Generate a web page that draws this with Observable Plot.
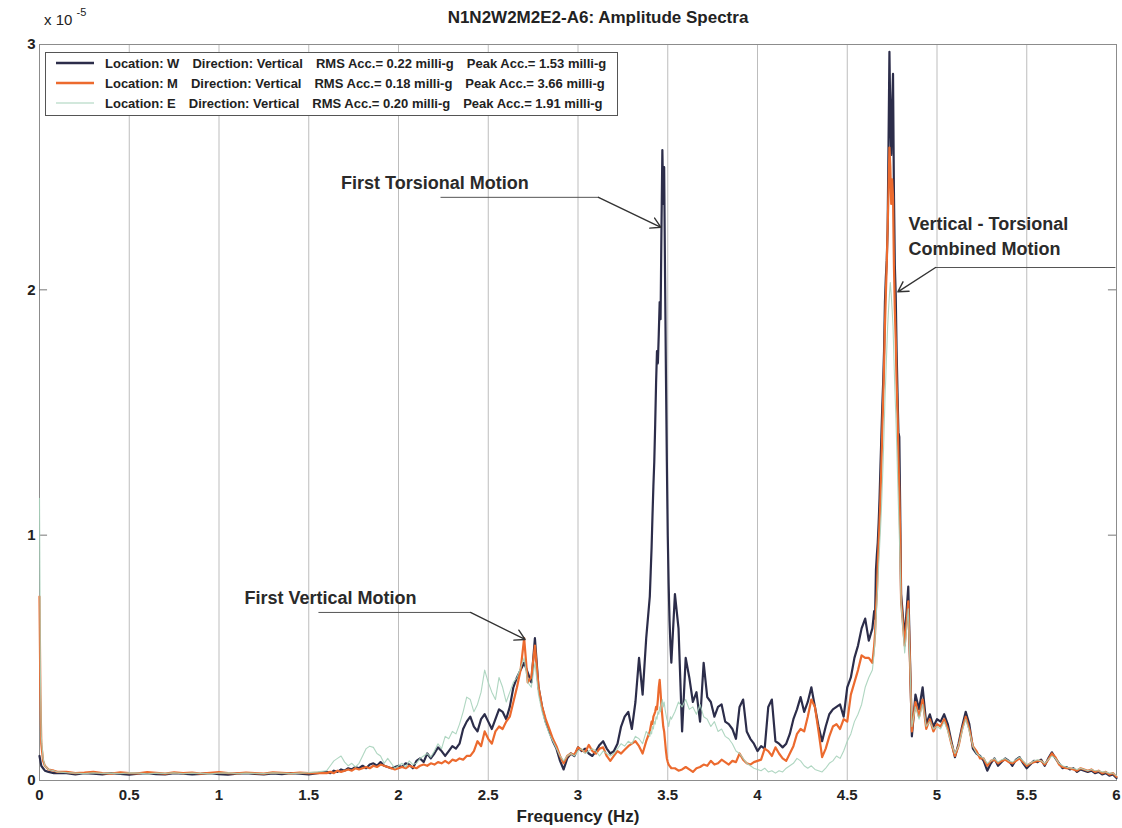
<!DOCTYPE html>
<html><head><meta charset="utf-8">
<script src="https://cdn.jsdelivr.net/npm/d3@7"></script>
<script src="https://cdn.jsdelivr.net/npm/@observablehq/plot@0.6"></script>
<style>
body{margin:0;background:#fff;}
#wrap{position:relative;width:1122px;height:828px;font-family:"Liberation Sans",Arial,Helvetica,sans-serif;color:#222;}
#wrap svg{position:absolute;left:0;top:0;}
.ov{position:absolute;white-space:nowrap;font-weight:bold;}
#legend{position:absolute;left:45px;top:52px;width:571px;height:62px;border:1px solid #555;background:#fff;font-weight:bold;font-size:13px;}
#legend .row{height:20px;display:flex;align-items:center;white-space:nowrap;}
#legend .row span{margin-left:13px;}
#legend .row span.first{margin-left:11px;}
</style></head><body><div id="wrap"></div>
<script>
// ---- data (amplitudes in units of 1e-5) ----
const freq = [
0,0.005,0.01,0.02,0.03,0.05,0.08,0.1,
0.15,0.2,0.25,0.3,0.35,0.4,0.45,0.5,0.55,0.6,0.65,0.7,0.75,0.8,0.85,0.9,0.95,1,1.05,1.1,1.15,1.2,1.25,1.3,1.35,1.4,1.45,1.5,1.55,
1.6,1.62,1.64,1.66,1.68,1.7,1.72,1.74,1.76,1.78,
1.8,1.82,1.84,1.86,1.88,1.9,1.92,1.94,1.96,1.98,
2,2.02,2.04,2.06,2.08,2.1,2.12,2.14,2.16,2.18,
2.2,2.22,2.24,2.26,2.28,2.3,2.32,2.34,2.36,2.38,
2.4,2.42,2.44,2.46,2.48,2.5,2.52,2.54,2.56,2.58,
2.6,2.62,2.64,2.66,2.68,2.7,2.72,2.74,2.76,2.78,
2.8,2.82,2.84,2.86,2.88,2.9,2.92,2.94,2.96,2.98,
3,3.02,3.04,3.06,3.08,3.1,3.12,3.14,3.16,3.18,
3.2,3.22,3.24,3.26,3.28,3.3,3.32,3.34,3.36,3.38,
3.4,3.405,3.41,3.415,3.42,3.425,3.43,3.435,3.44,3.445,
3.45,3.455,3.46,3.465,3.47,3.475,3.48,3.485,3.49,3.495,
3.5,3.505,3.51,3.515,3.52,
3.54,3.56,3.58,3.6,3.62,3.64,3.66,3.68,3.7,3.72,
3.74,3.76,3.78,3.8,3.82,3.84,3.86,3.88,3.9,3.92,
3.94,3.96,3.98,4,4.02,4.04,4.06,4.08,4.1,4.12,
4.14,4.16,4.18,4.2,4.22,4.24,4.26,4.28,4.3,4.32,
4.34,4.36,4.38,4.4,4.42,4.44,4.46,4.48,4.5,4.52,
4.54,4.56,4.58,4.6,
4.62,4.64,4.65,4.655,4.66,4.665,4.67,4.675,4.68,4.685,
4.69,4.695,4.7,4.705,4.71,4.715,4.72,4.725,4.73,4.735,
4.74,4.745,4.75,4.755,4.76,4.765,4.77,4.775,4.78,4.785,
4.79,4.795,4.8,
4.82,4.84,4.86,4.88,4.9,4.92,4.94,4.96,4.98,5,
5.02,5.04,5.06,5.08,5.1,5.12,5.14,5.16,5.18,5.2,
5.22,5.24,5.26,5.28,5.3,5.32,5.34,5.36,5.38,5.4,
5.42,5.44,5.46,5.48,5.5,5.52,5.54,5.56,5.58,5.6,
5.62,5.64,5.66,5.68,5.7,5.72,5.74,5.76,5.78,5.8,
5.82,5.84,5.86,5.88,5.9,5.92,5.94,5.96,5.98,6
];
const ampW = [
0.10,0.08,0.06,0.05,0.04,0.035,0.03,0.03,
0.03,0.025,0.03,0.028,0.025,0.03,0.027,0.024,0.028,0.03,
0.026,0.025,0.03,0.028,0.025,0.027,0.03,0.026,0.024,0.028,
0.03,0.027,0.025,0.029,0.026,0.03,0.028,0.025,0.03,
0.035,0.03,0.04,0.035,0.045,0.04,0.05,0.045,0.055,0.05,
0.06,0.05,0.065,0.07,0.06,0.075,0.06,0.055,0.05,0.055,
0.06,0.055,0.07,0.065,0.05,0.08,0.09,0.075,0.11,0.09,
0.11,0.135,0.12,0.10,0.12,0.14,0.13,0.15,0.21,0.24,
0.26,0.22,0.20,0.25,0.27,0.24,0.21,0.25,0.29,0.28,
0.25,0.30,0.38,0.42,0.45,0.48,0.44,0.40,0.58,0.38,
0.30,0.24,0.20,0.16,0.13,0.08,0.045,0.09,0.11,0.10,
0.135,0.12,0.13,0.11,0.10,0.12,0.145,0.16,0.13,0.11,
0.12,0.15,0.22,0.26,0.28,0.21,0.32,0.50,0.35,0.58,
0.75,0.85,0.95,1.08,1.20,1.30,1.45,1.62,1.75,1.70,
1.82,1.95,1.88,2.25,2.57,2.35,2.50,2.05,1.65,1.30,
1.00,0.80,0.65,0.55,0.48,
0.76,0.62,0.20,0.50,0.42,0.32,0.36,0.24,0.48,0.34,
0.32,0.26,0.30,0.31,0.24,0.23,0.21,0.17,0.30,0.33,
0.20,0.17,0.15,0.12,0.14,0.13,0.30,0.33,0.16,0.15,
0.135,0.15,0.19,0.25,0.29,0.34,0.28,0.32,0.38,0.30,
0.22,0.16,0.22,0.27,0.29,0.30,0.31,0.26,0.38,0.42,
0.50,0.55,0.62,0.66,
0.57,0.62,0.69,0.66,0.86,0.92,0.97,1.05,1.15,1.28,
1.40,1.52,1.62,1.75,1.95,2.05,2.12,2.25,2.60,2.97,
2.70,2.55,2.75,2.88,2.40,2.10,1.98,1.75,1.58,1.42,
1.40,1.10,0.76,
0.58,0.79,0.18,0.35,0.29,0.38,0.23,0.27,0.22,0.25,
0.24,0.27,0.23,0.16,0.095,0.15,0.22,0.28,0.23,0.13,
0.11,0.10,0.08,0.04,0.07,0.09,0.06,0.075,0.09,0.08,
0.06,0.085,0.095,0.07,0.05,0.065,0.08,0.075,0.085,0.06,
0.09,0.115,0.09,0.07,0.05,0.055,0.045,0.05,0.035,0.045,
0.04,0.035,0.04,0.03,0.035,0.025,0.03,0.02,0.025,0.01
];
const ampM = [
0.75,0.35,0.15,0.08,0.06,0.045,0.04,0.035,
0.035,0.03,0.032,0.035,0.03,0.028,0.033,0.03,0.029,0.034,
0.031,0.028,0.033,0.03,0.032,0.028,0.031,0.034,0.03,0.029,
0.032,0.03,0.028,0.033,0.031,0.029,0.032,0.03,0.031,
0.03,0.035,0.03,0.04,0.035,0.04,0.045,0.04,0.05,0.045,
0.05,0.055,0.05,0.06,0.055,0.065,0.06,0.055,0.05,0.045,
0.05,0.055,0.05,0.06,0.055,0.05,0.06,0.065,0.06,0.07,
0.065,0.075,0.07,0.08,0.07,0.085,0.08,0.09,0.085,0.10,
0.10,0.12,0.16,0.14,0.20,0.17,0.15,0.20,0.22,0.21,
0.24,0.26,0.32,0.38,0.45,0.58,0.40,0.42,0.55,0.38,
0.30,0.25,0.21,0.17,0.14,0.10,0.07,0.10,0.11,0.105,
0.135,0.125,0.115,0.145,0.12,0.11,0.13,0.135,0.10,0.08,
0.10,0.12,0.11,0.125,0.14,0.15,0.16,0.14,0.11,0.16,
0.20,0.22,0.24,0.23,0.26,0.27,0.28,0.30,0.29,0.33,
0.38,0.41,0.36,0.30,0.26,0.22,0.20,0.16,0.12,0.09,
0.075,0.065,0.06,0.055,0.05,
0.05,0.04,0.045,0.055,0.045,0.035,0.05,0.055,0.065,0.06,
0.08,0.065,0.07,0.085,0.075,0.065,0.08,0.075,0.11,0.085,
0.07,0.065,0.075,0.08,0.085,0.13,0.12,0.10,0.135,0.11,
0.09,0.08,0.11,0.14,0.19,0.21,0.20,0.26,0.33,0.30,
0.20,0.095,0.13,0.18,0.22,0.23,0.21,0.25,0.24,0.35,
0.40,0.45,0.51,0.50,
0.50,0.48,0.55,0.60,0.70,0.76,0.88,0.97,1.05,1.15,
1.28,1.42,1.55,1.68,1.85,1.98,2.10,2.25,2.40,2.58,
2.50,2.35,2.45,2.38,2.10,1.92,1.80,1.62,1.50,1.32,
1.18,1.00,0.73,
0.55,0.73,0.20,0.32,0.26,0.33,0.21,0.25,0.20,0.23,
0.22,0.25,0.21,0.15,0.10,0.14,0.21,0.26,0.21,0.14,
0.12,0.09,0.09,0.06,0.08,0.085,0.07,0.08,0.085,0.075,
0.07,0.08,0.09,0.075,0.06,0.07,0.075,0.08,0.08,0.065,
0.085,0.11,0.095,0.065,0.055,0.05,0.05,0.045,0.04,0.05,
0.045,0.04,0.045,0.035,0.04,0.03,0.035,0.025,0.03,0.015
];
const ampE = [
1.15,0.45,0.18,0.09,0.06,0.045,0.04,0.035,
0.032,0.03,0.028,0.031,0.029,0.03,0.028,0.031,0.03,0.027,
0.03,0.029,0.031,0.028,0.03,0.029,0.027,0.03,0.031,0.028,
0.03,0.029,0.028,0.031,0.03,0.028,0.03,0.032,0.035,
0.04,0.06,0.08,0.09,0.10,0.075,0.06,0.07,0.055,0.07,
0.10,0.13,0.14,0.135,0.11,0.10,0.07,0.09,0.07,0.05,
0.06,0.07,0.055,0.08,0.065,0.07,0.09,0.10,0.11,0.095,
0.12,0.15,0.13,0.18,0.17,0.20,0.19,0.23,0.28,0.34,
0.33,0.28,0.31,0.36,0.45,0.40,0.36,0.33,0.42,0.38,
0.32,0.36,0.40,0.42,0.46,0.50,0.40,0.38,0.48,0.35,
0.28,0.23,0.19,0.16,0.13,0.10,0.08,0.10,0.11,0.10,
0.12,0.13,0.11,0.12,0.13,0.12,0.10,0.12,0.11,0.10,
0.11,0.13,0.15,0.14,0.16,0.15,0.18,0.17,0.15,0.20,
0.18,0.20,0.19,0.22,0.21,0.24,0.23,0.26,0.25,0.28,
0.27,0.30,0.28,0.31,0.33,0.30,0.32,0.29,0.27,0.25,
0.24,0.22,0.24,0.26,0.25,
0.28,0.32,0.30,0.33,0.29,0.30,0.27,0.31,0.26,0.25,
0.22,0.24,0.20,0.21,0.18,0.17,0.15,0.12,0.11,0.09,
0.07,0.06,0.05,0.045,0.04,0.05,0.035,0.04,0.03,0.04,
0.035,0.05,0.06,0.07,0.09,0.08,0.06,0.05,0.06,0.045,
0.04,0.035,0.05,0.07,0.08,0.10,0.09,0.12,0.16,0.19,
0.24,0.27,0.31,0.38,
0.42,0.45,0.52,0.58,0.65,0.72,0.80,0.88,0.95,1.02,
1.10,1.20,1.30,1.42,1.55,1.65,1.75,1.85,1.92,1.98,
2.03,1.98,1.92,1.85,1.72,1.60,1.50,1.38,1.25,1.12,
1.00,0.88,0.72,
0.52,0.70,0.22,0.30,0.25,0.31,0.22,0.24,0.21,0.22,
0.21,0.24,0.20,0.15,0.11,0.14,0.20,0.25,0.20,0.14,
0.11,0.10,0.09,0.07,0.08,0.09,0.075,0.085,0.09,0.08,
0.075,0.085,0.095,0.08,0.065,0.07,0.08,0.085,0.08,0.07,
0.085,0.10,0.09,0.07,0.06,0.055,0.05,0.05,0.045,0.05,
0.045,0.04,0.045,0.04,0.04,0.035,0.035,0.03,0.03,0.02
];
const locations = ["W", "M", "E"];
const directions = ["Vertical", "Vertical", "Vertical"];
const rmsAcc = ["0.22", "0.18", "0.20"];
const peakAcc = ["1.53", "3.66", "1.91"];
const xTicks = [0, 0.5, 1, 1.5, 2, 2.5, 3, 3.5, 4, 4.5, 5, 5.5, 6];
const yTicks = [0, 1, 2, 3];
const titleText = "N1N2W2M2E2-A6: Amplitude Spectra";
const xLabel = "Frequency (Hz)";
const annotations = [
  {label: "First Torsional Motion", f: 2.203, a: 2.434},
  {label: "First Vertical Motion", f: 1.621, a: 0.742}
];
const annotationsLeft = [
  {label: "Vertical - Torsional", f: 4.841, a: 2.267},
  {label: "Combined Motion", f: 4.841, a: 2.165}
];
const leaders = [
  {f0: 2.234, a0: 2.377, f1: 3.114, a1: 2.377, f2: 3.462, a2: 2.255},
  {f0: 1.554, a0: 0.685, f1: 2.401, a1: 0.685, f2: 2.705, a2: 0.575},
  {f0: 5.994, a0: 2.091, f1: 4.992, a1: 2.091, f2: 4.782, a2: 1.992}
];

// ---- styling ----
const colors = ["#2c2d4a", "#ec6a2e", "#a6d2ba"];
const widths = [2.2, 2.2, 1.1];
const font = '"Liberation Sans", Arial, Helvetica, sans-serif';

const series = [ampW, ampM, ampE].map((arr, k) => freq.map((f, i) => ({f, v: arr[i], s: locations[k]})));

const chart = Plot.plot({
  width: 1122, height: 828,
  marginLeft: 39, marginRight: 6, marginTop: 44, marginBottom: 48,
  style: {fontFamily: font, background: "transparent", color: "#222"},
  x: {domain: [0, 6]},
  y: {domain: [0, 3]},
  marks: [
    Plot.ruleX(xTicks, {stroke: "#bdbdbd", strokeWidth: 1}),
    Plot.frame({stroke: "#8c8c8c"}),
    Plot.ruleY(yTicks.slice(1, 3), {x1: 0, x2: 0.045, stroke: "#777"}),
    Plot.ruleY(yTicks.slice(1, 3), {x1: 5.955, x2: 6, stroke: "#777"}),
    Plot.axisX(xTicks, {tickSize: 0, tickPadding: 9, fontSize: 15, fontWeight: "bold", fill: "#222", tickFormat: d => String(d), label: null}),
    Plot.axisY(yTicks, {tickSize: 0, tickPadding: 4, fontSize: 15, fontWeight: "bold", fill: "#222", tickFormat: d => String(d), label: null}),
    ...series.map((rows, k) => Plot.line(rows, {x: "f", y: "v", stroke: colors[k], strokeWidth: widths[k], strokeOpacity: k === 2 ? 0.9 : 1})),
    Plot.link(leaders, {x1: "f0", y1: "a0", x2: "f1", y2: "a1", stroke: "#555", strokeWidth: 1}),
    Plot.arrow(leaders, {x1: "f1", y1: "a1", x2: "f2", y2: "a2", stroke: "#333", strokeWidth: 1.4, headLength: 12}),
    Plot.text(annotations, {x: "f", y: "a", text: "label", fontSize: 18, fontWeight: "bold", fill: "#2a2a2a"}),
    Plot.text(annotationsLeft, {x: "f", y: "a", text: "label", textAnchor: "start", fontSize: 18, fontWeight: "bold", fill: "#2a2a2a"})
  ]
});

const wrap = document.getElementById("wrap");
wrap.appendChild(chart);

function addDiv(html, css) {
  const d = document.createElement("div");
  d.className = "ov";
  d.innerHTML = html;
  Object.assign(d.style, css);
  wrap.appendChild(d);
  return d;
}
addDiv(titleText, {left: "598px", top: "8px", transform: "translateX(-50%)", fontSize: "17px"});
addDiv('x 10 <sup style="font-size:11px;position:relative;top:-3px">-5</sup>', {left: "44px", top: "9px", fontSize: "15px", fontWeight: "normal"});
addDiv(xLabel, {left: "578px", top: "807px", transform: "translateX(-50%)", fontSize: "17px"});

const legend = document.createElement("div");
legend.id = "legend";
locations.forEach((loc, k) => {
  const row = document.createElement("div");
  row.className = "row";
  row.innerHTML =
    `<svg width="38" height="6" style="position:static;margin-left:10px"><line x1="0" x2="38" y1="3" y2="3" stroke="${colors[k]}" stroke-width="${k === 2 ? 1.2 : 2.5}"/></svg>` +
    `<span class="first">Location: ${loc}</span>` +
    `<span>Direction: ${directions[k]}</span>` +
    `<span>RMS Acc.= ${rmsAcc[k]} milli-g</span>` +
    `<span>Peak Acc.= ${peakAcc[k]} milli-g</span>`;
  legend.appendChild(row);
});
wrap.appendChild(legend);
</script></body></html>
